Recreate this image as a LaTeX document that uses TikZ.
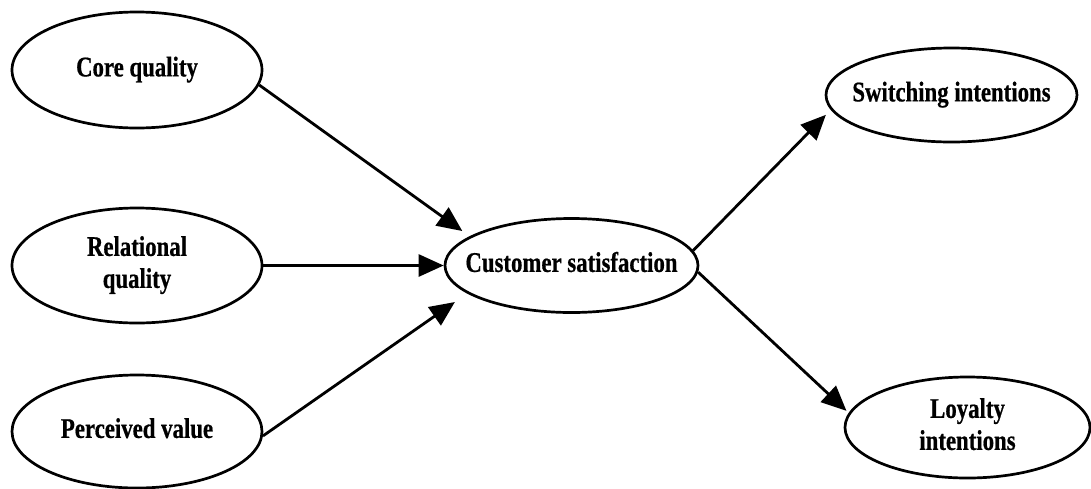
\documentclass[tikz,border=0pt]{standalone}
\usepackage{fontspec}
\usetikzlibrary{shapes.geometric,arrows.meta}
\newfontfamily\lblfont[FakeStretch=0.8,FakeBold=0.6]{Liberation Serif}
% label set without width, so the ellipse size comes from the minimum sizes alone
\newcommand{\lbltext}[1]{\makebox[0pt][c]{\begin{tabular}{@{}c@{}}#1\end{tabular}}}
\begin{document}
\begin{tikzpicture}[x=1pt,y=-1pt,
  construct/.style={ellipse,draw=black,line width=2.7pt,inner sep=0pt,
    minimum width=250pt,minimum height=#1,
    font=\lblfont\bfseries\fontsize{28.5}{32}\selectfont},
  construct/.default=114pt,
  path/.style={line width=2.8pt,-{Triangle[length=25pt,width=22pt]}}]
  \useasboundingbox (0,0) rectangle (1091,488);
  % antecedents
  \node[construct=116pt] (core) at (137,70) {\lbltext{Core quality}};
  \node[construct=115pt] (rel) at (137,265.5) {\lbltext{Relational\\quality}};
  \node[construct=113pt] (perc) at (137,431.5) {\lbltext{Perceived value}};
  % mediator
  \node[construct=94pt,minimum width=253pt] (cs) at (571.5,265.5) {\lbltext{Customer satisfaction}};
  % outcomes
  \node[construct=94pt,minimum width=251pt] (sw) at (951.5,95) {\lbltext{Switching intentions}};
  \node[construct=101pt,minimum width=245pt] (loy) at (967.5,427.5) {\lbltext{Loyalty\\intentions}};
  % paths
  \draw[path,shorten >=9pt] (core.-7) -- (cs.164.6);
  \draw[path] (rel.0) -- (cs.180);
  \draw[path,shorten >=15pt] (perc.-2) -- (cs.195.7);
  \draw[path,shorten >=7pt] (cs.7) -- (sw.187.1);
  \draw[path,shorten >=3pt] (cs.-3) -- (loy.173.5);
\end{tikzpicture}
\end{document}
